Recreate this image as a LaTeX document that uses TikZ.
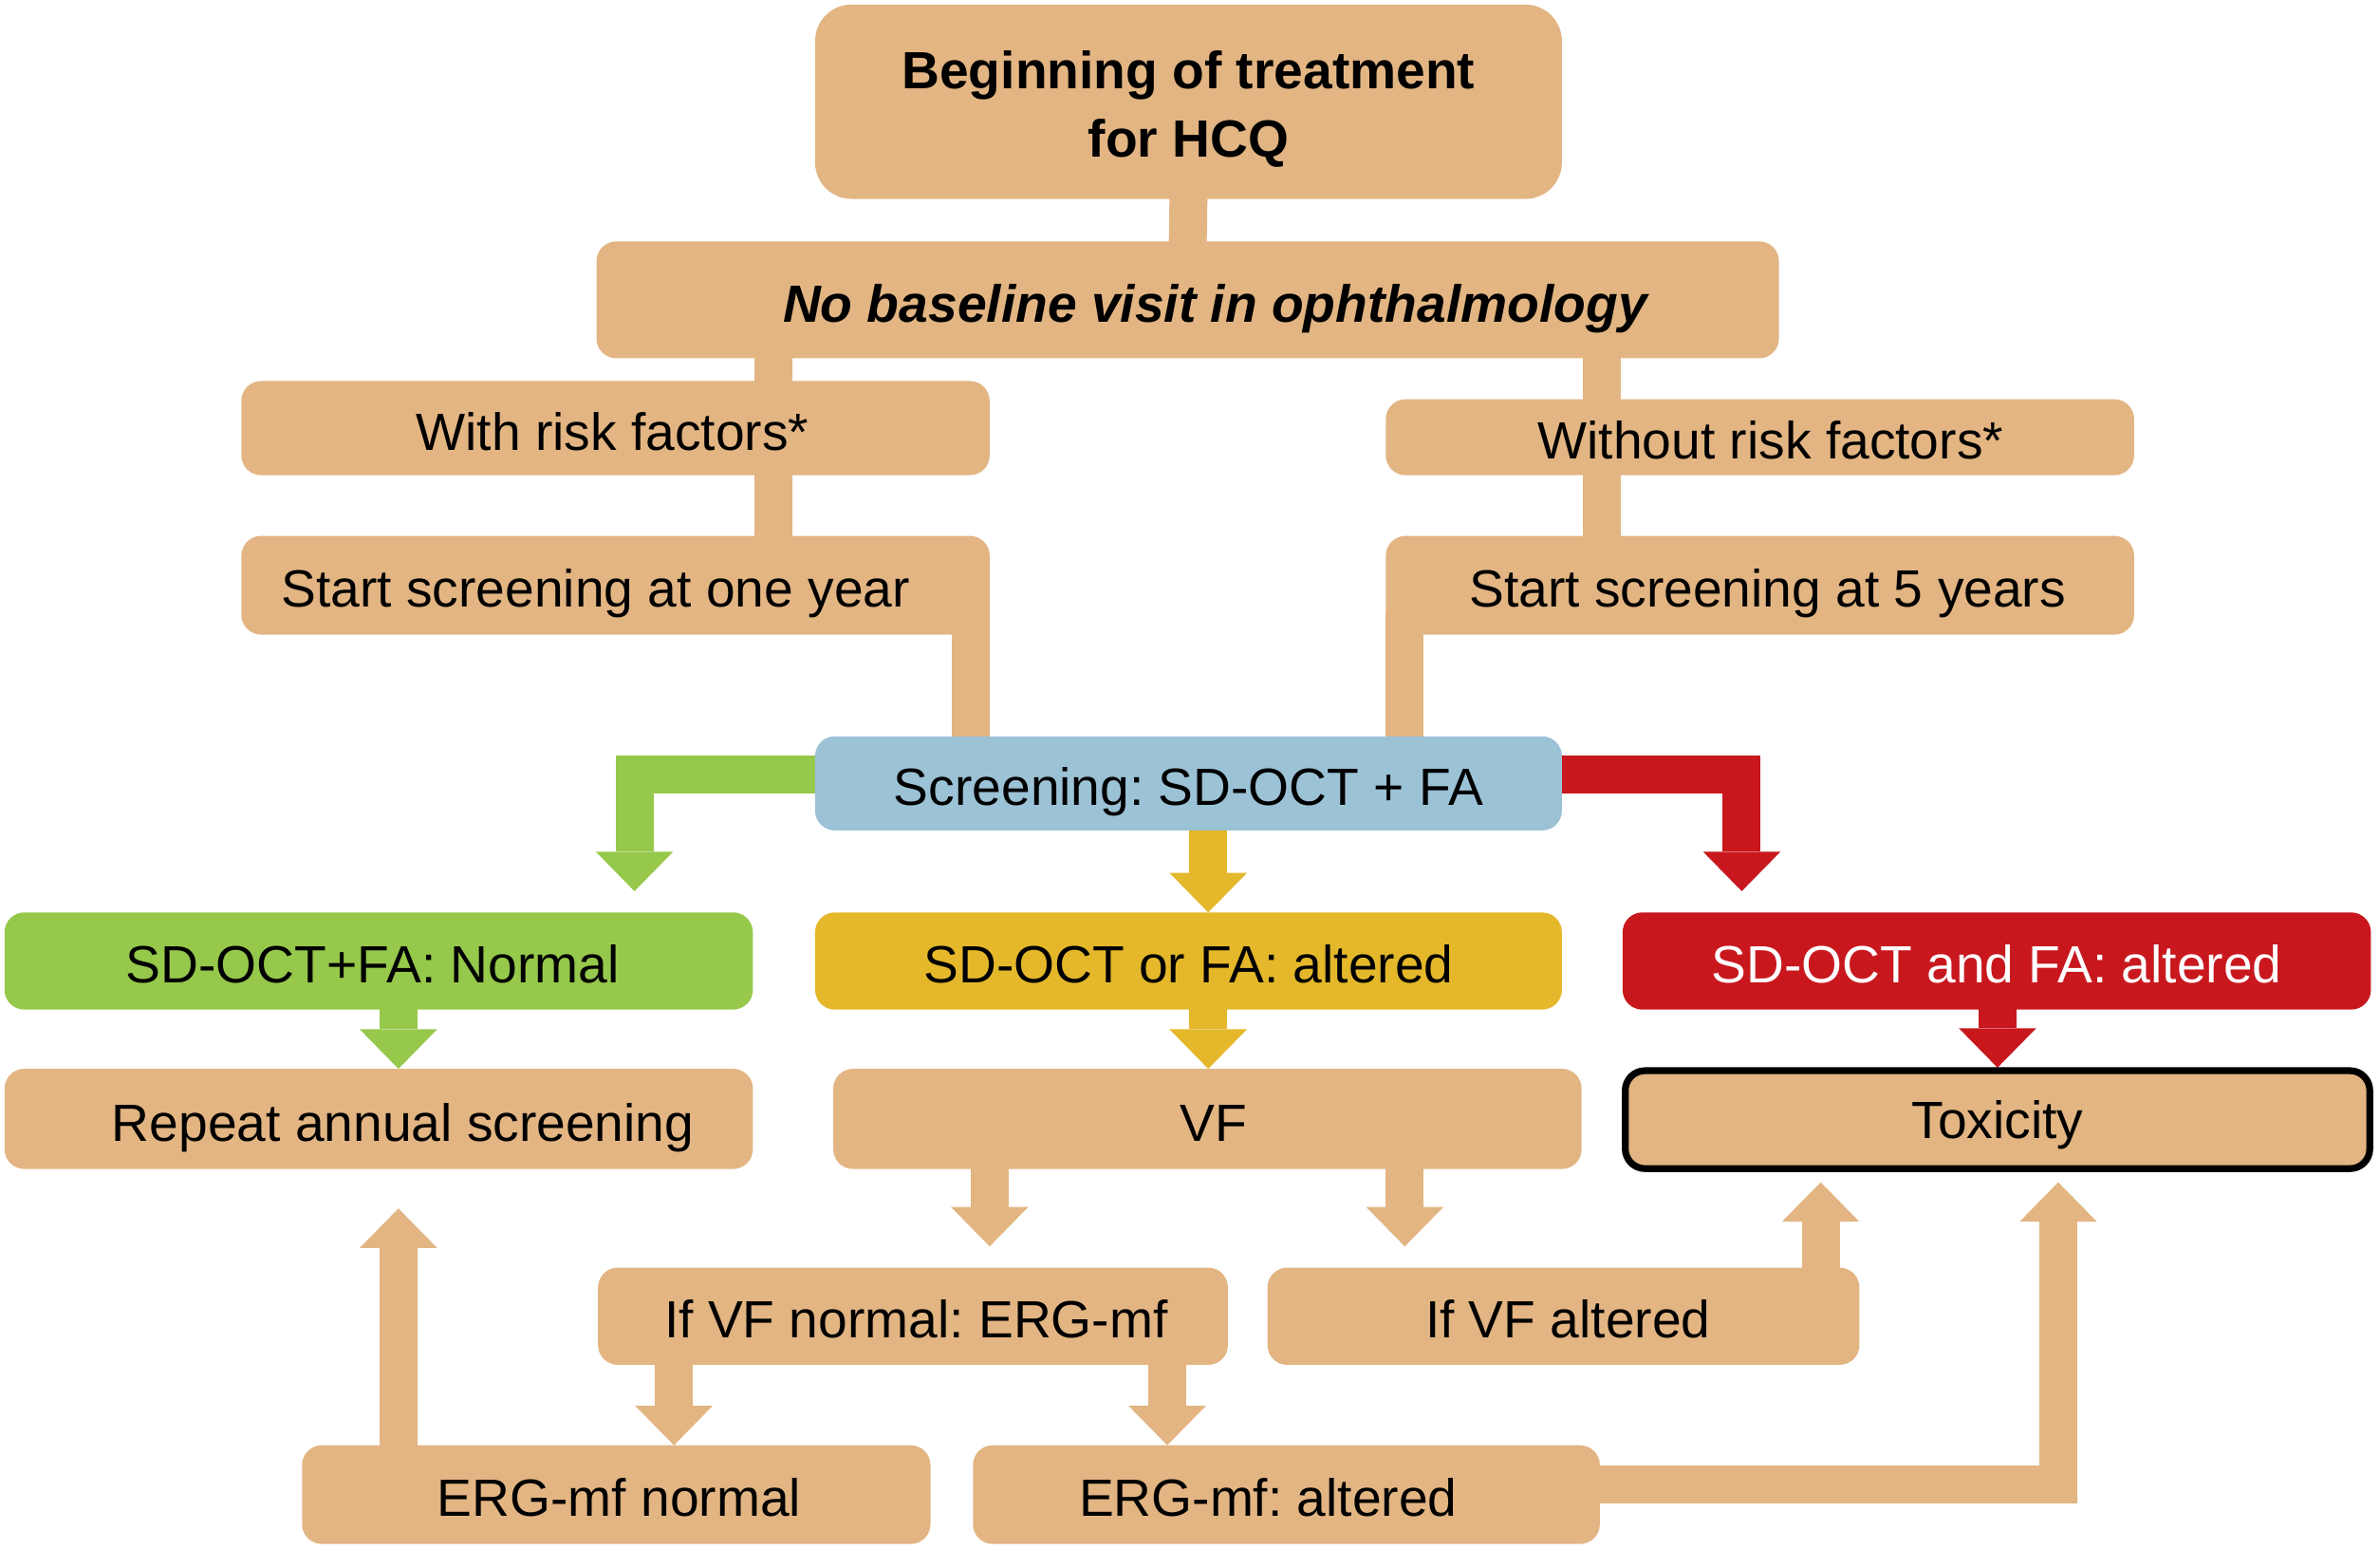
\documentclass[tikz,border=0pt]{standalone}
\usepackage{fontspec}
\setmainfont{Liberation Sans}
\usetikzlibrary{arrows.meta,backgrounds}
\definecolor{tanc}{HTML}{E2B583}
\definecolor{greenc}{HTML}{96C84B}
\definecolor{yellowc}{HTML}{E4B82A}
\definecolor{redc}{HTML}{C8181E}
\definecolor{bluec}{HTML}{9CC2D6}
\newcommand\tshift[2]{\hspace*{#1}#2}
\begin{document}
\frenchspacing
\begin{tikzpicture}[x=1pt,y=-1pt,
  base/.style={fill=tanc, rounded corners=13pt, inner sep=0pt, outer sep=0pt,
    font=\fontsize{34.5pt}{45pt}\selectfont\frenchspacing},
  box/.style={base, text height=29pt, text depth=0pt},
  conn/.style={draw=tanc, line width=25pt},
  arr/.style={draw=tanc, line width=25pt, line join=miter,
    -{Triangle[width=51pt,length=26pt,line width=0pt]}}]
\useasboundingbox (0,0) rectangle (1568,1020.3);

% boxes
\node[base, rounded corners=24pt, minimum width=492pt, minimum height=128pt,
  font=\fontsize{34.5pt}{45pt}\selectfont\bfseries] (B1) at (783,67)
  {\begin{tabular}{@{}c@{}}\rule{0pt}{42pt}Beginning of treatment\\for HCQ\end{tabular}};
\node[box, minimum width=779pt, minimum height=77pt, font=\fontsize{34.5pt}{45pt}\selectfont\bfseries\itshape]
  (B2) at (782.5,197.5) {\tshift{36pt}{No baseline visit in ophthalmology}};
\node[box, minimum width=493pt, minimum height=62pt] (B3) at (405.5,282) {\tshift{-4pt}{With risk factors*}};
\node[box, minimum width=493pt, minimum height=50pt] (B4) at (1159.5,288) {\tshift{14pt}{Without risk factors*}};
\node[box, minimum width=493pt, minimum height=65pt] (B5) at (405.5,385.5) {\tshift{-26pt}{Start screening at one year}};
\node[box, minimum width=493pt, minimum height=65pt] (B6) at (1159.5,385.5) {\tshift{10pt}{Start screening at 5 years}};
\node[box, fill=bluec, minimum width=492pt, minimum height=62pt] (B7) at (783,516) {Screening: SD-OCT + FA};
\node[box, fill=greenc, minimum width=493pt, minimum height=64pt] (B8) at (249.5,633) {\tshift{-8pt}{SD-OCT+FA: Normal}};
\node[box, fill=yellowc, minimum width=492pt, minimum height=64pt] (B9) at (783,633) {SD-OCT or FA: altered};
\node[box, fill=redc, text=white, minimum width=493pt, minimum height=64pt] (B10) at (1315.5,633) {SD-OCT and FA: altered};
\node[box, minimum width=493pt, minimum height=66pt] (B11) at (249.5,737) {\tshift{32pt}{Repeat annual screening}};
\node[box, minimum width=493pt, minimum height=66pt] (B12) at (795.5,737) {\tshift{8pt}{VF}};
\node[box, text height=25pt, draw=black, line width=4.5pt, minimum width=490.5pt, minimum height=64.5pt] (B13) at (1316,737.5) {Toxicity};
\node[box, minimum width=415pt, minimum height=64pt] (B14) at (601.5,867) {\tshift{4pt}{If VF normal: ERG-mf}};
\node[box, minimum width=390pt, minimum height=64pt] (B15) at (1030,867) {\tshift{6pt}{If VF altered}};
\node[box, minimum width=414pt, minimum height=65pt] (B16) at (406,984.5) {\tshift{4pt}{ERG-mf normal}};
\node[box, minimum width=413pt, minimum height=65pt] (B17) at (847.5,984.5) {\tshift{-24pt}{ERG-mf: altered}};

\begin{scope}[on background layer]
% plain connectors
\draw[conn] ([yshift=3pt]B1.south) -- ([yshift=-3pt]B2.north);
\draw[conn] ([yshift=3pt]B2.south -| 509.5,0) -- ([yshift=-3pt]B3.north -| 509.5,0);
\draw[conn] ([yshift=3pt]B2.south -| 1055.5,0) -- ([yshift=-3pt]B4.north -| 1055.5,0);
\draw[conn] ([yshift=3pt]B3.south -| 509.5,0) -- ([yshift=-3pt]B5.north -| 509.5,0);
\draw[conn] ([yshift=3pt]B4.south -| 1055.5,0) -- ([yshift=-3pt]B6.north -| 1055.5,0);
\draw[conn] ([yshift=15pt]B5.south -| 639.5,0) -- ([yshift=-3pt]B7.north -| 639.5,0);
\draw[conn] ([yshift=15pt]B6.south -| 925.5,0) -- ([yshift=-3pt]B7.north -| 925.5,0);
% coloured arrows
\draw[arr, draw=greenc] ([xshift=3pt]B7.west |- 0,510) -| ([yshift=14pt]B8.north -| 418,0);
\draw[arr, draw=redc] ([xshift=-3pt]B7.east |- 0,510) -| ([yshift=14pt]B10.north -| 1147.5,0);
\draw[arr, draw=yellowc] ([yshift=3pt]B7.south -| 796,0) -- (B9.north -| 796,0);
\draw[arr, draw=greenc] ([yshift=3pt]B8.south -| 262.5,0) -- (B11.north -| 262.5,0);
\draw[arr, draw=yellowc] ([yshift=3pt]B9.south -| 796,0) -- (B12.north -| 796,0);
\draw[arr, draw=redc] ([yshift=3pt]B10.south -| 1316,0) -- ([yshift=2pt]B13.north -| 1316,0);
% tan arrows
\draw[arr] ([yshift=3pt]B12.south -| 652,0) -- ([yshift=14pt]B14.north -| 652,0);
\draw[arr] ([yshift=3pt]B12.south -| 925.5,0) -- ([yshift=14pt]B15.north -| 925.5,0);
\draw[arr] ([yshift=-3pt]B15.north -| 1199.5,0) -- ([yshift=-9pt]B13.south -| 1199.5,0);
\draw[arr] ([yshift=3pt]B14.south -| 444,0) -- (B16.north -| 444,0);
\draw[arr] ([yshift=3pt]B14.south -| 769,0) -- (B17.north -| 769,0);
\draw[arr] ([yshift=-3pt]B16.north -| 262.5,0) -- ([yshift=-26pt]B11.south -| 262.5,0);
\draw[arr] ([xshift=-3pt]B17.east |- 0,977.5) -| ([yshift=-9pt]B13.south -| 1356,0);
\end{scope}
\end{tikzpicture}
\end{document}
